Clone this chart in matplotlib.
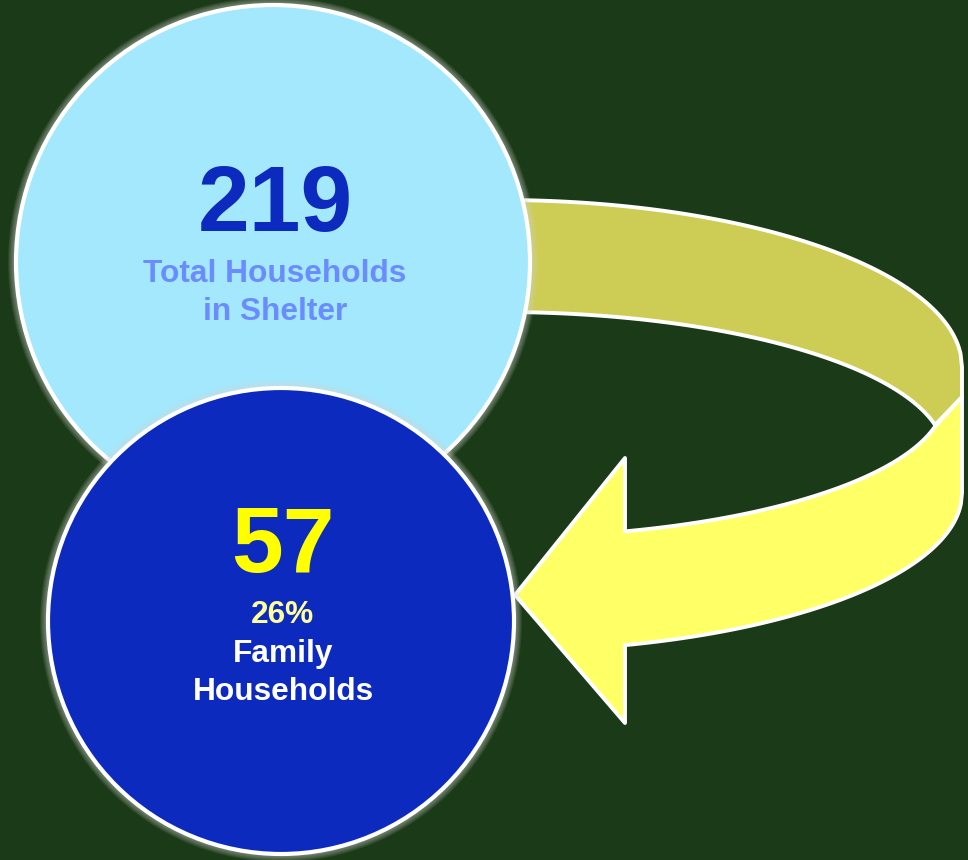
import numpy as np
import matplotlib
matplotlib.use("Agg")
import matplotlib.pyplot as plt
from matplotlib.patches import Circle, Polygon

# values shown in the chart
total_households = 219
family_households = 57
total_label = ["Total Households", "in Shelter"]
family_label = ["Family", "Households"]
family_pct = round(100 * family_households / total_households)

BG = "#1b3a17"
LIGHT_BLUE = "#a3e8fc"
DARK_BLUE = "#0d2abf"
BAND_BACK = "#cdcc55"
BAND_FRONT = "#ffff66"


def ell_upper(cx, cy, a, b, x):
    return cy - b * np.sqrt(np.clip(1 - ((x - cx) / a) ** 2, 0, 1))


def ell_lower(cx, cy, a, b, x):
    return cy + b * np.sqrt(np.clip(1 - ((x - cx) / a) ** 2, 0, 1))


def glow(ax, cx, cy, r, z):
    # soft halo round the circles
    for k in range(1, 9):
        ax.add_patch(Circle((cx, cy), r + k, facecolor="#d8d8d8", edgecolor="none",
                            alpha=0.09, zorder=z))


fig = plt.figure(figsize=(9.68, 8.6), dpi=100, facecolor=BG)
ax = fig.add_axes([0, 0, 1, 1])
ax.set_facecolor(BG)
ax.set_xlim(0, 968)
ax.set_ylim(860, 0)
ax.set_aspect("equal")
ax.axis("off")

# back part of the curved arrow (darker band)
xo = np.linspace(500, 962, 300)
xi = np.linspace(935, 500, 300)
back = np.vstack([
    np.column_stack([xo, ell_upper(500, 367, 462, 167, xo)]),
    [[962, 397], [935, 425]],
    np.column_stack([xi, ell_upper(500, 455, 445, 143, xi)]),
])
ax.add_patch(Polygon(back, closed=True, facecolor=BAND_BACK, edgecolor="white",
                     lw=2.8, joinstyle="round", zorder=1))

# front part of the arrow with its head
xb = np.linspace(962, 625, 300)
xt = np.linspace(625, 935, 300)
front = np.vstack([
    [[962, 397], [962, 493]],
    np.column_stack([xb, ell_lower(500, 493, 462, 158, xb)]),
    [[625, 723], [515, 595], [625, 458]],
    np.column_stack([xt, ell_lower(500, 397, 445, 140, xt)]),
])
ax.add_patch(Polygon(front, closed=True, facecolor=BAND_FRONT, edgecolor="white",
                     lw=2.8, joinstyle="round", zorder=2))

# big light circle
glow(ax, 273, 262, 257, 3)
ax.add_patch(Circle((273, 262), 257, facecolor=LIGHT_BLUE, edgecolor="white", lw=3, zorder=4))
ax.text(275, 231, str(total_households), ha="center", va="baseline", fontsize=67,
        fontweight="bold", family="Liberation Sans", color=DARK_BLUE, zorder=10)
for i, line in enumerate(total_label):
    ax.text(275, 282 + 38 * i, line, ha="center", va="baseline", fontsize=22.8,
            fontweight="bold", family="Liberation Sans", color="#6b8cff", zorder=10)

# smaller dark circle
glow(ax, 281, 621, 233, 5)
ax.add_patch(Circle((281, 621), 233, facecolor=DARK_BLUE, edgecolor="white", lw=3, zorder=6))
ax.text(283, 572, str(family_households), ha="center", va="baseline", fontsize=67,
        fontweight="bold", family="Liberation Sans", color="#ffff00", zorder=10)
ax.text(283, 623, f"{family_pct}%", ha="center", va="baseline", fontsize=22.8,
        fontweight="bold", family="Liberation Sans", color="#ffff99", zorder=10)
for i, line in enumerate(family_label):
    ax.text(283, 662 + 38 * i, line, ha="center", va="baseline", fontsize=22.8,
            fontweight="bold", family="Liberation Sans", color="white", zorder=10)

fig.savefig("out.png", dpi=100, facecolor=BG)
